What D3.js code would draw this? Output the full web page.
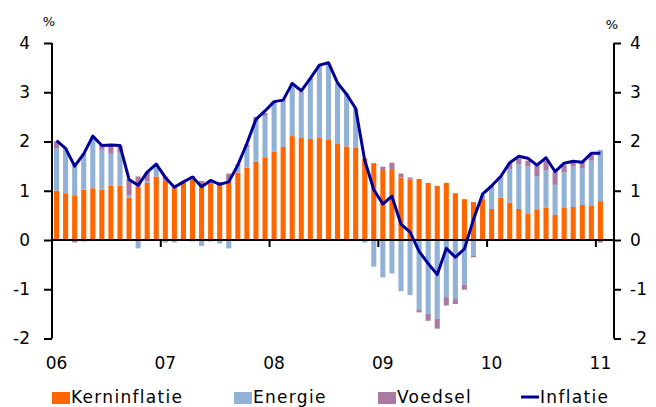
<!DOCTYPE html>
<html>
<head>
<meta charset="utf-8">
<script src="https://cdn.jsdelivr.net/npm/d3@7"></script>
<style>
  html, body { margin: 0; padding: 0; background: #fff; }
  svg text { font-family: "DejaVu Sans", Verdana, sans-serif; fill: #000; }
</style>
</head>
<body>
<div id="chart"></div>
<script>
// maanden jan 2006 .. jan 2011
const years = ["06", "07", "08", "09", "10", "11"];

const kerninflatie = [
  1.00, 0.95, 0.91, 1.02, 1.05, 1.02, 1.10, 1.10, 0.86, 1.08, 1.16, 1.29,
  1.20, 1.05, 1.17, 1.23, 1.07, 1.14, 1.12, 1.18, 1.37, 1.47, 1.59, 1.68,
  1.79, 1.89, 2.11, 2.07, 2.05, 2.07, 2.03, 1.95, 1.90, 1.88, 1.65, 1.56,
  1.42, 1.44, 1.27, 1.23, 1.24, 1.16, 1.10, 1.16, 0.95, 0.83, 0.77, 0.83,
  0.63, 0.86, 0.76, 0.63, 0.53, 0.61, 0.66, 0.51, 0.65, 0.67, 0.71, 0.69,
  0.79
];
const energie = [
  0.86, 0.89, 0.62, 0.74, 1.06, 0.81, 0.65, 0.67, 0.05, -0.17, 0.04, 0.25,
  -0.05, -0.05, -0.02, -0.03, -0.12, -0.03, -0.07, -0.17, 0.12, 0.42, 0.81, 0.84,
  0.98, 0.94, 1.04, 0.92, 1.20, 1.46, 1.52, 1.21, 1.08, 0.79, -0.05, -0.54,
  -0.76, -0.68, -1.04, -1.12, -1.42, -1.50, -1.60, -1.16, -1.20, -0.91, -0.32, 0.08,
  0.43, 0.41, 0.68, 0.91, 0.96, 0.68, 0.76, 0.61, 0.72, 0.82, 0.75, 0.92,
  1.04
];
const voedsel = [
  0.14, 0.02, -0.05, -0.03, 0.00, 0.10, 0.20, 0.15, 0.33, 0.21, 0.18, 0.00,
  0.09, 0.07, 0.03, 0.07, 0.13, 0.08, 0.06, 0.17, 0.05, 0.05, 0.10, 0.06,
  0.03, 0.02, 0.03, 0.02, 0.03, 0.02, 0.02, 0.02, 0.00, 0.00, 0.00, 0.00,
  0.07, 0.13, 0.08, 0.04, -0.05, -0.14, -0.20, -0.17, -0.10, -0.10, -0.03, 0.00,
  0.04, 0.02, 0.12, 0.12, 0.12, 0.23, 0.19, 0.27, 0.15, 0.10, 0.12, 0.12,
  -0.05
];
const inflatie = [
  2.02, 1.86, 1.50, 1.75, 2.11, 1.92, 1.93, 1.92, 1.23, 1.11, 1.38, 1.54,
  1.27, 1.07, 1.18, 1.28, 1.08, 1.21, 1.13, 1.18, 1.52, 1.96, 2.45, 2.62,
  2.81, 2.84, 3.18, 3.03, 3.28, 3.55, 3.60, 3.19, 2.96, 2.67, 1.62, 1.02,
  0.73, 0.89, 0.32, 0.16, -0.23, -0.48, -0.70, -0.17, -0.35, -0.18, 0.42, 0.93,
  1.10, 1.29, 1.57, 1.70, 1.66, 1.52, 1.67, 1.39, 1.56, 1.60, 1.58, 1.76,
  1.76
];
const yTicks = [-2, -1, 0, 1, 2, 3, 4];

const series = ["Kerninflatie", "Energie", "Voedsel"];
const colors = { Kerninflatie: "#ff6600", Energie: "#92b1d6", Voedsel: "#ab7aa1", Inflatie: "#000099" };

const W = 656, H = 407;
const plotL = 52, plotR = 614, plotT = 43, plotB = 338.5;
const nSlots = 62; // 61 maanden + lege plek aan het eind

const rows = kerninflatie.map((k, i) => ({
  i, Kerninflatie: k, Energie: energie[i], Voedsel: voedsel[i]
}));

const svg = d3.select("#chart").append("svg")
  .attr("width", W).attr("height", H);

const x = d3.scaleLinear().domain([0, nSlots]).range([plotL, plotR]);
const y = d3.scaleLinear().domain([-2, 4]).range([plotB, plotT]);
const slot = x(1) - x(0);
const barW = slot * 0.56;

const stacked = d3.stack().keys(series).offset(d3.stackOffsetDiverging)(rows);

// bars
svg.append("g").selectAll("g")
  .data(stacked)
  .join("g")
  .attr("fill", d => colors[d.key])
  .selectAll("rect")
  .data(d => d)
  .join("rect")
  .attr("x", d => x(d.data.i + 0.5) - barW / 2)
  .attr("width", barW)
  .attr("y", d => y(Math.max(d[0], d[1])))
  .attr("height", d => Math.abs(y(d[0]) - y(d[1])));

// linker- en rechteras
const axL = svg.append("g").attr("transform", `translate(${plotL},0)`)
  .call(d3.axisLeft(y).tickValues(yTicks).tickSize(8).tickPadding(14).tickFormat(d3.format("d")));
const axR = svg.append("g").attr("transform", `translate(${plotR},0)`)
  .call(d3.axisRight(y).tickValues(yTicks).tickSize(7).tickPadding(9).tickFormat(d3.format("d")));

[axL, axR].forEach(a => {
  a.select(".domain").attr("stroke", "#000").attr("stroke-width", 2)
    .attr("d", `M0,${plotT}V${plotB}`);
  a.selectAll(".tick line").attr("stroke", "#000").attr("stroke-width", 2);
  a.selectAll("text").style("font-size", "17px")
    .text(d => d < 0 ? "-" + Math.abs(d) : d);
});

// nullijn met jaarstreepjes
const xAxis = svg.append("g").attr("transform", `translate(0,${y(0)})`);
xAxis.append("line")
  .attr("x1", plotL).attr("x2", plotR)
  .attr("stroke", "#000").attr("stroke-width", 2);
xAxis.selectAll(".yt")
  .data(years)
  .join("line")
  .attr("x1", (d, k) => x(k * 12)).attr("x2", (d, k) => x(k * 12))
  .attr("y1", 0).attr("y2", 7)
  .attr("stroke", "#000").attr("stroke-width", 2);

// jaarlabels onderaan
svg.append("g").selectAll("text")
  .data(years)
  .join("text")
  .attr("x", (d, k) => x(k * 12 + 0.5))
  .attr("y", 369)
  .attr("text-anchor", "middle")
  .style("font-size", "17px")
  .text(d => d);

// inflatie lijn
svg.append("path")
  .datum(inflatie)
  .attr("fill", "none")
  .attr("stroke", colors.Inflatie)
  .attr("stroke-width", 3)
  .attr("stroke-linejoin", "round")
  .attr("d", d3.line().x((d, i) => x(i + 0.5)).y(d => y(d)));

// % labels
svg.append("text").attr("x", 49).attr("y", 26).attr("text-anchor", "middle")
  .style("font-size", "13px").text("%");
svg.append("text").attr("x", 612).attr("y", 29).attr("text-anchor", "middle")
  .style("font-size", "13px").text("%");

// legenda
const legendItems = [
  { name: "Kerninflatie", x: 52, type: "rect" },
  { name: "Energie", x: 234, type: "rect" },
  { name: "Voedsel", x: 378, type: "rect" },
  { name: "Inflatie", x: 521, type: "line" }
];
const lg = svg.append("g").selectAll("g")
  .data(legendItems)
  .join("g")
  .attr("transform", d => `translate(${d.x},397)`);
lg.filter(d => d.type === "rect").append("rect")
  .attr("x", 0).attr("y", -5).attr("width", 18).attr("height", 12)
  .attr("fill", d => colors[d.name]);
lg.filter(d => d.type === "line").append("line")
  .attr("x1", 0).attr("x2", 18).attr("y1", 0).attr("y2", 0)
  .attr("stroke", colors.Inflatie).attr("stroke-width", 3);
lg.append("text")
  .attr("x", 19)
  .attr("y", 6)
  .style("font-size", "17px")
  .style("letter-spacing", "1.3px")
  .text(d => d.name);
</script>
</body>
</html>
